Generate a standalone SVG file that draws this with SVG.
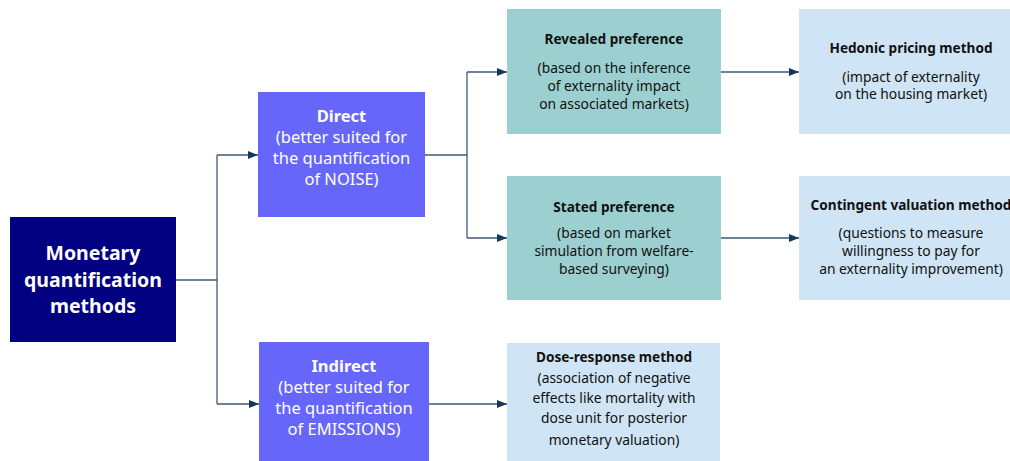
<svg xmlns="http://www.w3.org/2000/svg" width="1010" height="461" viewBox="0 0 1010 461">
  <style>
    .t { font-family: "Noto Sans", "Open Sans", "DejaVu Sans", sans-serif; text-anchor: middle; }
    .root { fill: #000080; }
    .lvl1 { fill: #6666fa; }
    .lvl2 { fill: #9ccfcf; }
    .lvl3 { fill: #cfe4f4; }
    .main { font-size: 19.5px; font-weight: bold; fill: #ffffff; }
    .w { font-size: 16.5px; fill: #ffffff; }
    .wb { font-size: 16.5px; fill: #ffffff; font-weight: bold; }
    .d { font-size: 13.8px; fill: #111111; }
    .db { font-size: 13.6px; fill: #111111; font-weight: bold; }
    .conn { fill: none; stroke: #40597a; stroke-width: 1.3; }
  </style>
  <defs>
    <marker id="arr" viewBox="0 0 10 8" refX="10" refY="4" markerWidth="10" markerHeight="8" markerUnits="userSpaceOnUse" orient="auto">
      <path d="M0,0 L10,4 L0,8 Z" fill="#16365a"/>
    </marker>
  </defs>

  <rect width="1010" height="461" fill="#ffffff"/>

  <!-- connectors -->
  <g id="connectors">
    <path class="conn" d="M176,280 H217"/>
    <path class="conn" d="M217,155 V404"/>
    <path class="conn" d="M217,155 H258" marker-end="url(#arr)"/>
    <path class="conn" d="M217,404 H259" marker-end="url(#arr)"/>
    <path class="conn" d="M425,155 H467"/>
    <path class="conn" d="M467,72 V238"/>
    <path class="conn" d="M467,72 H507" marker-end="url(#arr)"/>
    <path class="conn" d="M467,238 H507" marker-end="url(#arr)"/>
    <path class="conn" d="M721,72 H799" marker-end="url(#arr)"/>
    <path class="conn" d="M721,238 H799" marker-end="url(#arr)"/>
    <path class="conn" d="M429,404 H507" marker-end="url(#arr)"/>
  </g>

  <!-- root node -->
  <g id="monetary">
    <rect class="root" x="10" y="217" width="166" height="125"/>
    <text class="t main" x="93" y="260">Monetary</text>
    <text class="t main" x="93" y="287">quantification</text>
    <text class="t main" x="93" y="313">methods</text>
  </g>

  <g id="direct">
    <rect class="lvl1" x="258" y="92" width="167" height="125"/>
    <text class="t wb" x="341.5" y="122">Direct</text>
    <text class="t w" x="341.5" y="143">(better suited for</text>
    <text class="t w" x="341.5" y="164">the quantification</text>
    <text class="t w" x="341.5" y="185">of NOISE)</text>
  </g>

  <g id="indirect">
    <rect class="lvl1" x="259" y="342" width="170" height="125"/>
    <text class="t wb" x="344" y="372">Indirect</text>
    <text class="t w" x="344" y="393">(better suited for</text>
    <text class="t w" x="344" y="414">the quantification</text>
    <text class="t w" x="344" y="435">of EMISSIONS)</text>
  </g>

  <g id="revealed">
    <rect class="lvl2" x="507" y="9" width="214" height="125"/>
    <text class="t db" x="614" y="44">Revealed preference</text>
    <text class="t d" x="614" y="73">(based on the inference</text>
    <text class="t d" x="614" y="91">of externality impact</text>
    <text class="t d" x="614" y="109">on associated markets)</text>
  </g>

  <g id="stated">
    <rect class="lvl2" x="507" y="176" width="214" height="124"/>
    <text class="t db" x="614" y="212">Stated preference</text>
    <text class="t d" x="614" y="238">(based on market</text>
    <text class="t d" x="614" y="256">simulation from welfare-</text>
    <text class="t d" x="614" y="274">based surveying)</text>
  </g>

  <g id="hedonic">
    <rect class="lvl3" x="799" y="9" width="225" height="125"/>
    <text class="t db" x="911" y="53">Hedonic pricing method</text>
    <text class="t d" x="911" y="82">(impact of externality</text>
    <text class="t d" x="911" y="99">on the housing market)</text>
  </g>

  <g id="contingent">
    <rect class="lvl3" x="799" y="176" width="225" height="124"/>
    <text class="t db" x="911" y="210">Contingent valuation method</text>
    <text class="t d" x="911" y="238">(questions to measure</text>
    <text class="t d" x="911" y="256">willingness to pay for</text>
    <text class="t d" x="911" y="274">an externality improvement)</text>
  </g>

  <g id="dose-response">
    <rect class="lvl3" x="507" y="343" width="213" height="125"/>
    <text class="t db" x="614" y="362">Dose-response method</text>
    <text class="t d" x="614" y="383">(association of negative</text>
    <text class="t d" x="614" y="403">effects like mortality with</text>
    <text class="t d" x="614" y="423">dose unit for posterior</text>
    <text class="t d" x="614" y="445">monetary valuation)</text>
  </g>
</svg>
